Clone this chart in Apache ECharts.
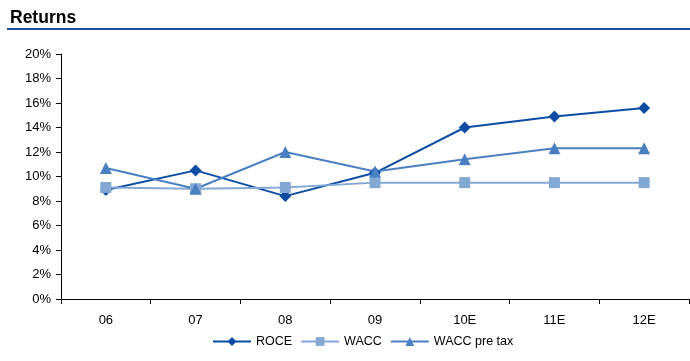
<!DOCTYPE html>
<html>
<head>
<meta charset="utf-8">
<script src="https://cdn.jsdelivr.net/npm/echarts@6/dist/echarts.min.js"></script>
<style>
  html, body { margin: 0; padding: 0; background: #fff; }
  #chart { width: 690px; height: 361px; }
</style>
</head>
<body>
<div id="chart"></div>
<script>
// Return metrics by year (percent)
const categories = ['06', '07', '08', '09', '10E', '11E', '12E'];
const roce = [8.9, 10.5, 8.4, 10.3, 14.0, 14.9, 15.6];
const wacc = [9.1, 9.0, 9.1, 9.5, 9.5, 9.5, 9.5];
const waccPreTax = [10.7, 9.0, 12.0, 10.4, 11.4, 12.3, 12.3];
const yTicks = { min: 0, max: 20, interval: 2 };

const font = 'Liberation Sans, Arial, sans-serif';
const chart = echarts.init(document.getElementById('chart'));

function lineSeries(name, data, color, symbol, size) {
  return {
    name, type: 'line', data, symbol, symbolSize: size,
    lineStyle: { color, width: 2 },
    itemStyle: { color },
    emphasis: { disabled: true },
    animation: false
  };
}

chart.setOption({
  animation: false,
  textStyle: { fontFamily: font },
  graphic: [
    { type: 'text', left: 10, top: 9,
      style: { text: 'Returns', font: 'bold 17.5px ' + font, fill: '#000' } },
    { type: 'rect', shape: { x: 7, y: 28, width: 683, height: 2 },
      style: { fill: '#1f4e9a' } }
  ],
  grid: { left: 61, right: 1, top: 54, bottom: 62 },
  legend: {
    top: 330, left: 207,
    itemWidth: 38, itemHeight: 11, itemGap: 8,
    textStyle: { fontSize: 12.5, color: '#000', fontFamily: font },
    data: ['ROCE', 'WACC', 'WACC pre tax']
  },
  xAxis: {
    type: 'category', data: categories, boundaryGap: true,
    axisLine: { lineStyle: { color: '#000', width: 1 } },
    axisTick: { show: true, alignWithLabel: false, length: 5, lineStyle: { color: '#000' } },
    axisLabel: { color: '#000', fontSize: 13, margin: 15 },
    splitLine: { show: false }
  },
  yAxis: {
    type: 'value', min: yTicks.min, max: yTicks.max, interval: yTicks.interval,
    axisLine: { show: true, lineStyle: { color: '#000', width: 1 } },
    axisTick: { show: true, length: 5, lineStyle: { color: '#000' } },
    axisLabel: { color: '#000', fontSize: 13, formatter: '{value}%', margin: 10 },
    splitLine: { show: false }
  },
  series: [
    lineSeries('ROCE', roce, '#0b4da2', 'diamond', 12),
    lineSeries('WACC', wacc, '#84a8d4', 'rect', 11),
    lineSeries('WACC pre tax', waccPreTax, '#4a80c2', 'triangle', 12)
  ]
});
</script>
</body>
</html>
